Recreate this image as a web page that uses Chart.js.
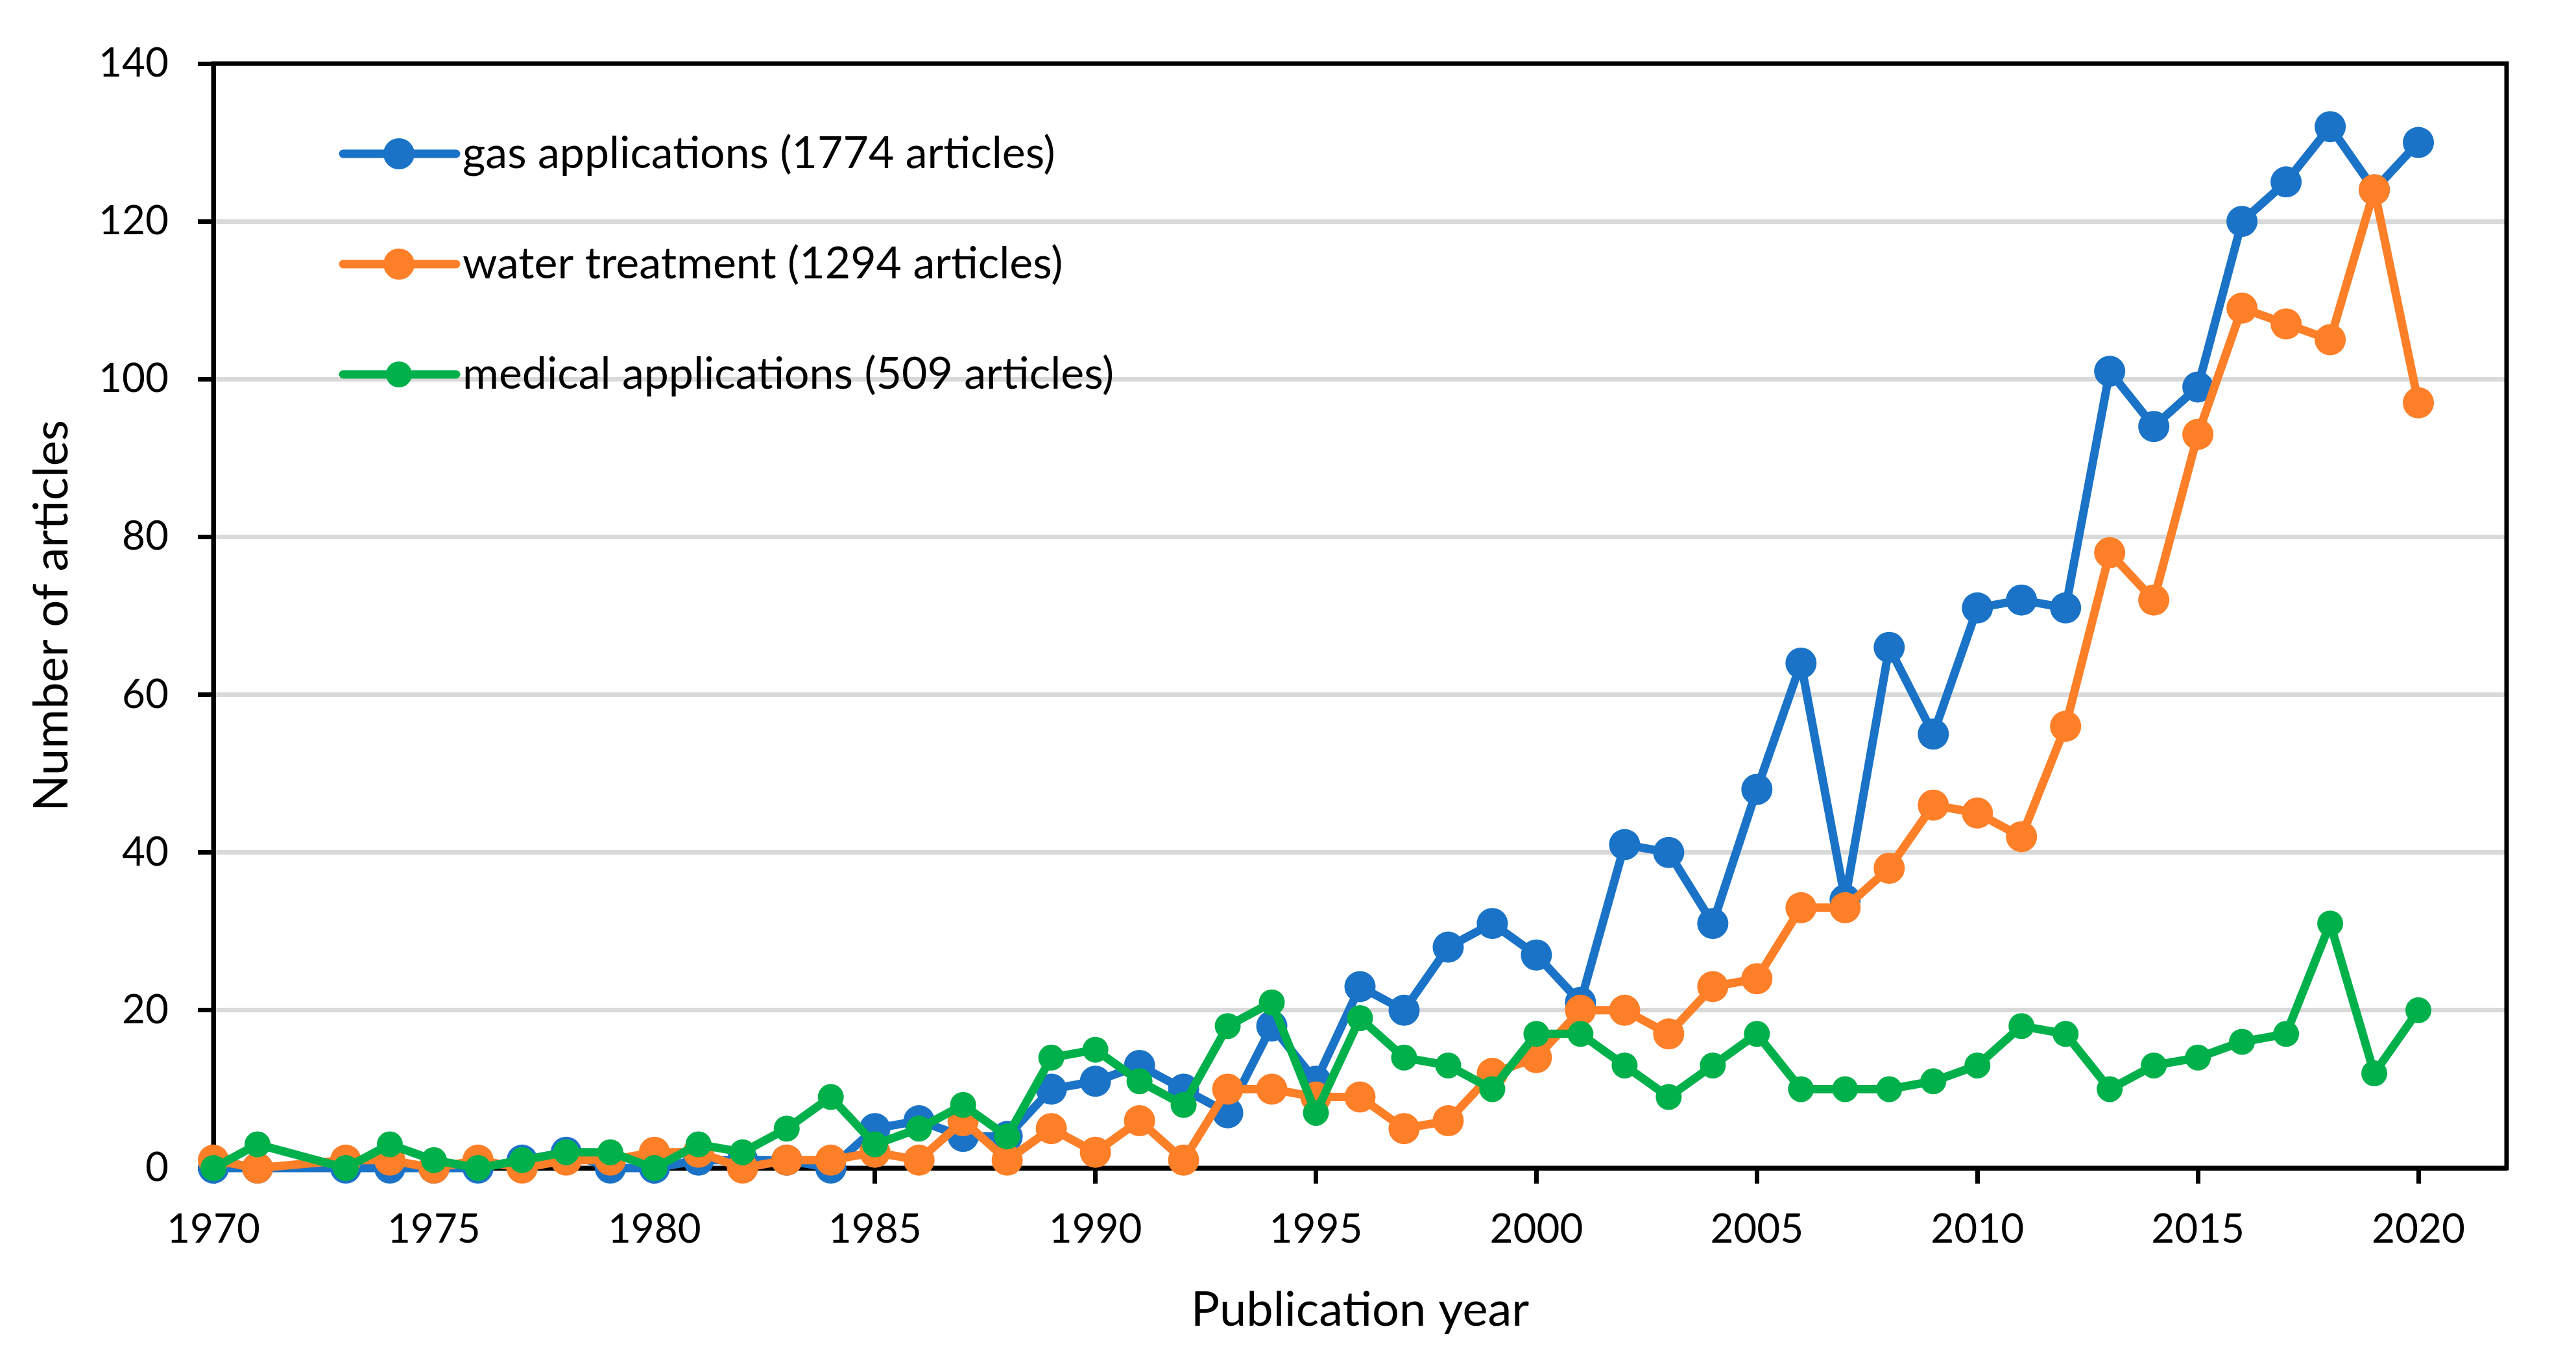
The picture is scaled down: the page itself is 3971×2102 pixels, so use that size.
<!DOCTYPE html>
<html>
<head>
<meta charset="utf-8">
<script src="https://cdn.jsdelivr.net/npm/chart.js@4.4.1/dist/chart.umd.min.js"></script>
<style>
html, body { margin: 0; padding: 0; background: #fff; }
</style>
</head>
<body>
<canvas id="chartArticles" width="3971" height="2102"></canvas>
<script>
// data (no 1972 point)
var years = [1970, 1971, 1973, 1974, 1975, 1976, 1977, 1978, 1979, 1980, 1981, 1982, 1983, 1984,
    1985, 1986, 1987, 1988, 1989, 1990, 1991, 1992, 1993, 1994, 1995, 1996, 1997, 1998, 1999, 2000,
    2001, 2002, 2003, 2004, 2005, 2006, 2007, 2008, 2009, 2010, 2011, 2012, 2013, 2014, 2015, 2016,
    2017, 2018, 2019, 2020]
var gas = [0, 0, 0, 0, 0, 0, 1, 2, 0, 0, 1, 1, 1, 0,
    5, 6, 4, 4, 10, 11, 13, 10, 7, 18, 11, 23, 20, 28, 31, 27,
    21, 41, 40, 31, 48, 64, 34, 66, 55, 71, 72, 71, 101, 94, 99, 120,
    125, 132, 124, 130]
var water = [1, 0, 1, 1, 0, 1, 0, 1, 1, 2, 2, 0, 1, 1,
    2, 1, 6, 1, 5, 2, 6, 1, 10, 10, 9, 9, 5, 6, 12, 14,
    20, 20, 17, 23, 24, 33, 33, 38, 46, 45, 42, 56, 78, 72, 93, 109,
    107, 105, 124, 97]
var medical = [0, 3, 0, 3, 1, 0, 1, 2, 2, 0, 3, 2, 5, 9,
    3, 5, 8, 4, 14, 15, 11, 8, 18, 21, 7, 19, 14, 13, 10, 17,
    17, 13, 9, 13, 17, 10, 10, 10, 11, 13, 18, 17, 10, 13, 14, 16,
    17, 31, 12, 20]
var seriesNames = ['gas applications (1774 articles)', 'water treatment (1294 articles)', 'medical applications (509 articles)']
var yearTicks = [1970, 1975, 1980, 1985, 1990, 1995, 2000, 2005, 2010, 2015, 2020]
var countTicks = [0, 20, 40, 60, 80, 100, 120, 140]

function points(values) {
    return values.map(function (v, i) { return { x: years[i], y: v } })
}

Chart.defaults.font.family = 'Lato'
Chart.defaults.color = '#000'

// legend drawn inside the plot, top left, one item per row
var insideLegend = {
    id: 'insideLegend',
    afterDatasetsDraw: function (chart) {
        var ctx = chart.ctx
        var area = chart.chartArea
        ctx.save()
        chart.data.datasets.forEach(function (ds, i) {
            var y = area.top + 139 + i * 170
            var x1 = area.left + 200
            var x2 = area.left + 374
            ctx.strokeStyle = ds.borderColor
            ctx.lineWidth = ds.borderWidth
            ctx.lineCap = 'round'
            ctx.beginPath()
            ctx.moveTo(x1, y)
            ctx.lineTo(x2, y)
            ctx.stroke()
            ctx.fillStyle = ds.borderColor
            ctx.beginPath()
            ctx.arc(area.left + 286, y, ds.pointRadius, 0, Math.PI * 2)
            ctx.fill()
            ctx.fillStyle = '#000'
            ctx.font = '68px Lato'
            ctx.textBaseline = 'middle'
            ctx.textAlign = 'left'
            ctx.fillText(ds.label, area.left + 384, y)
        })
        ctx.restore()
    }
}

// frame round the plot area
var plotFrame = {
    id: 'plotFrame',
    beforeDatasetsDraw: function (chart) {
        var ctx = chart.ctx
        var a = chart.chartArea
        ctx.save()
        ctx.strokeStyle = '#000'
        ctx.lineWidth = 7
        ctx.strokeRect(a.left, a.top, a.right - a.left, a.bottom - a.top)
        ctx.restore()
    }
}

var ctxArticles = document.getElementById('chartArticles')

var chartArticles = new Chart(ctxArticles, {
    type: 'line',
    data: {
        datasets: [{
            label: seriesNames[0],
            data: points(gas),
            borderColor: '#1a73c7',
            backgroundColor: '#1a73c7',
            borderWidth: 13,
            pointRadius: 24,
            order: 3
        }, {
            label: seriesNames[1],
            data: points(water),
            borderColor: '#fd7f27',
            backgroundColor: '#fd7f27',
            borderWidth: 13,
            pointRadius: 24,
            order: 2
        }, {
            label: seriesNames[2],
            data: points(medical),
            borderColor: '#00b04b',
            backgroundColor: '#00b04b',
            borderWidth: 13,
            pointRadius: 20,
            order: 1
        }]
    },

    options: {
        responsive: false,
        animation: false,
        devicePixelRatio: 1,
        layout: {
            padding: { left: 0, right: 107, top: 98, bottom: 0 }
        },
        datasets: {
            line: {
                clip: false,
                pointBorderWidth: 0,
                pointHoverRadius: 20,
                borderJoinStyle: 'round',
                borderCapStyle: 'round',
                tension: 0
            }
        },
        plugins: {
            legend: { display: false },
            tooltip: { enabled: false }
        },

        scales: {
            x: {
                type: 'linear',
                min: 1970,
                max: 2022,
                afterBuildTicks: function (scale) {
                    scale.ticks = yearTicks.map(function (v) { return { value: v } })
                },
                afterFit: function (scale) {
                    scale.height = 302
                },
                ticks: {
                    padding: 34,
                    maxRotation: 0,
                    autoSkip: false,
                    font: { size: 62 },
                    callback: function (v) { return String(v) }
                },
                grid: {
                    drawOnChartArea: false,
                    drawTicks: true,
                    tickLength: 24,
                    tickWidth: 7,
                    tickColor: '#000'
                },
                border: { color: '#000', width: 7 },
                title: {
                    display: true,
                    text: 'Publication year',
                    font: { size: 74 },
                    padding: { top: 0, bottom: 38 }
                }
            },

            y: {
                min: 0,
                max: 140,
                afterBuildTicks: function (scale) {
                    scale.ticks = countTicks.map(function (v) { return { value: v } })
                },
                afterFit: function (scale) {
                    scale.width = 329
                },
                ticks: {
                    padding: 45,
                    font: { size: 62 }
                },
                grid: {
                    color: '#d9d9d9',
                    lineWidth: 7,
                    tickLength: 24,
                    tickWidth: 7,
                    tickColor: '#000'
                },
                border: { color: '#000', width: 7 },
                title: {
                    display: true,
                    text: 'Number of articles',
                    font: { size: 74 },
                    padding: { top: 36, bottom: 0 }
                }
            }
        }
    },
    plugins: [plotFrame, insideLegend]
})
</script>
</body>
</html>
